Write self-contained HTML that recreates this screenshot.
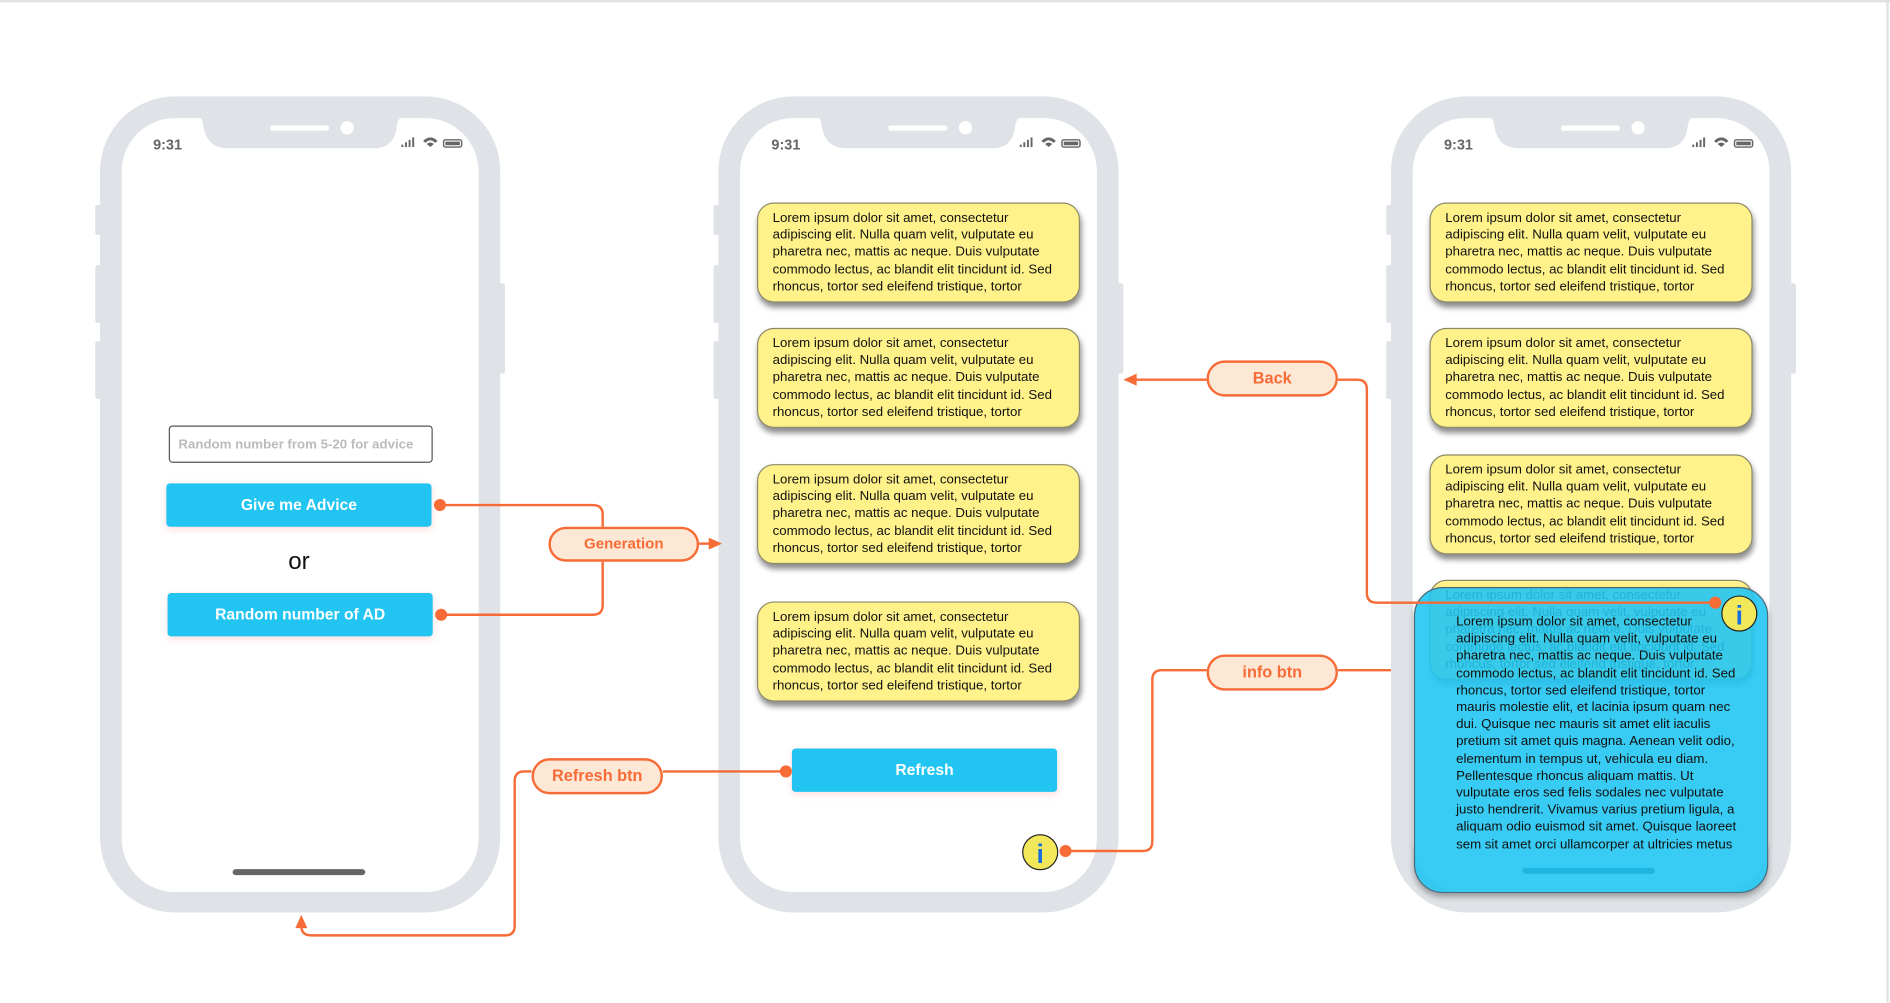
<!DOCTYPE html>
<html><head><meta charset="utf-8">
<style>
html,body{margin:0;padding:0;background:#fff;overflow:hidden}
#w{position:absolute;left:0;top:0;width:1568px;height:832px;transform:scale(1.20536);transform-origin:0 0;font-family:"Liberation Sans",Arial,sans-serif}
.a{position:absolute}
.card{position:absolute;width:268px;height:83px;background:#fff28a;border:1px solid #8d8a6a;border-radius:14px;box-shadow:1px 4px 5px rgba(0,0,0,.45);box-sizing:border-box;padding:5px 0 0 12px;font-size:11px;line-height:14.2px;color:#111;white-space:nowrap}
.btn{position:absolute;background:#22c5f2;color:#fff;font-weight:bold;font-size:13px;text-align:center;border-radius:3px;box-shadow:0 2px 6px rgba(255,120,120,.25)}
.pill{position:absolute;background:#fde8d6;border:2px solid #f76b37;border-radius:16px;box-sizing:border-box;color:#f76b37;font-weight:bold;font-size:13.5px;text-align:center}
</style></head><body><div id="w">
<svg class="a" style="left:0;top:0" width="1568" height="832" viewBox="0 0 1568 832">
<line x1="0" y1="1" x2="1568" y2="1" stroke="#e2e2e2" stroke-width="2"/>
<line x1="1566" y1="0" x2="1566" y2="832" stroke="#e2e2e2" stroke-width="2"/>
<g fill="#dfe2e6">
<g id="ph">
<rect x="79" y="170" width="6" height="25" rx="2"/><rect x="79" y="220" width="6" height="48" rx="2"/><rect x="79" y="283" width="6" height="48" rx="2"/><rect x="413" y="235" width="6" height="75" rx="2"/>
<rect x="83" y="80" width="332" height="677" rx="62"/>
<rect x="101" y="98" width="296" height="642" rx="44" fill="#fff"/>
<path d="M166 98 H333 Q330 98 329 106 Q327 122 312 123 H187 Q172 122 169 106 Q168 98 166 98Z"/>
<rect x="224" y="104" width="49" height="4.5" rx="2.3" fill="#fff"/>
<circle cx="288" cy="106" r="5.5" fill="#fff"/>
<g fill="#666"><rect x="333" y="120" width="1.6" height="2"/><rect x="336" y="118" width="1.6" height="4"/><rect x="339" y="116" width="1.6" height="6"/><rect x="342" y="114" width="1.6" height="8"/>
<path d="M351 117 Q357 111 363 117 L361 118.5 Q357 114.5 353 118.5Z M354 119.5 Q357 117 360 119.5 L357 122Z"/>
<rect x="368" y="116" width="15" height="6" rx="1.5" fill="none" stroke="#666" stroke-width="1.2"/><rect x="369.5" y="117.5" width="12" height="3"/></g>
<text x="127" y="124" font-size="12" font-weight="bold" fill="#666" font-family="Liberation Sans,Arial">9:31</text>
</g>
<use href="#ph" x="513"/>
<use href="#ph" x="1071"/>
</g>
<rect x="193" y="721" width="110" height="5" rx="2.5" fill="#666"/>
</svg>

<div class="a" style="left:140px;top:353px;width:219px;height:31px;border:1px solid #555;border-radius:3px;box-sizing:border-box;font-size:11px;font-weight:bold;color:#bbb;padding:9px 0 0 7px">Random number from 5-20 for advice</div>
<div class="btn" style="left:138px;top:401px;width:220px;height:36px;line-height:36px">Give me Advice</div>
<div class="a" style="left:228px;top:455px;width:40px;text-align:center;font-size:20px;color:#111">or</div>
<div class="btn" style="left:139px;top:492px;width:220px;height:36px;line-height:36px">Random number of AD</div>

<div class="card" style="left:628px;top:168px">Lorem ipsum dolor sit amet, consectetur<br>adipiscing elit. Nulla quam velit, vulputate eu<br>pharetra nec, mattis ac neque. Duis vulputate<br>commodo lectus, ac blandit elit tincidunt id. Sed<br>rhoncus, tortor sed eleifend tristique, tortor</div>
<div class="card" style="left:628px;top:272px">Lorem ipsum dolor sit amet, consectetur<br>adipiscing elit. Nulla quam velit, vulputate eu<br>pharetra nec, mattis ac neque. Duis vulputate<br>commodo lectus, ac blandit elit tincidunt id. Sed<br>rhoncus, tortor sed eleifend tristique, tortor</div>
<div class="card" style="left:628px;top:385px">Lorem ipsum dolor sit amet, consectetur<br>adipiscing elit. Nulla quam velit, vulputate eu<br>pharetra nec, mattis ac neque. Duis vulputate<br>commodo lectus, ac blandit elit tincidunt id. Sed<br>rhoncus, tortor sed eleifend tristique, tortor</div>
<div class="card" style="left:628px;top:499px">Lorem ipsum dolor sit amet, consectetur<br>adipiscing elit. Nulla quam velit, vulputate eu<br>pharetra nec, mattis ac neque. Duis vulputate<br>commodo lectus, ac blandit elit tincidunt id. Sed<br>rhoncus, tortor sed eleifend tristique, tortor</div>
<div class="btn" style="left:657px;top:621px;width:220px;height:36px;line-height:36px">Refresh</div>

<div class="card" style="left:1186px;top:168px">Lorem ipsum dolor sit amet, consectetur<br>adipiscing elit. Nulla quam velit, vulputate eu<br>pharetra nec, mattis ac neque. Duis vulputate<br>commodo lectus, ac blandit elit tincidunt id. Sed<br>rhoncus, tortor sed eleifend tristique, tortor</div>
<div class="card" style="left:1186px;top:272px">Lorem ipsum dolor sit amet, consectetur<br>adipiscing elit. Nulla quam velit, vulputate eu<br>pharetra nec, mattis ac neque. Duis vulputate<br>commodo lectus, ac blandit elit tincidunt id. Sed<br>rhoncus, tortor sed eleifend tristique, tortor</div>
<div class="card" style="left:1186px;top:377px">Lorem ipsum dolor sit amet, consectetur<br>adipiscing elit. Nulla quam velit, vulputate eu<br>pharetra nec, mattis ac neque. Duis vulputate<br>commodo lectus, ac blandit elit tincidunt id. Sed<br>rhoncus, tortor sed eleifend tristique, tortor</div>
<div class="card" style="left:1186px;top:481px">Lorem ipsum dolor sit amet, consectetur<br>adipiscing elit. Nulla quam velit, vulputate eu<br>pharetra nec, mattis ac neque. Duis vulputate<br>commodo lectus, ac blandit elit tincidunt id. Sed<br>rhoncus, tortor sed eleifend tristique, tortor</div>
<div class="a" style="left:1173px;top:487px;width:294px;height:254px;background:rgba(34,197,242,.9);border:1px solid #4a6a78;border-radius:24px;box-sizing:border-box;box-shadow:0 3px 5px rgba(0,0,0,.3)"></div>
<div class="a" style="left:1263px;top:720px;width:110px;height:5px;border-radius:3px;background:#1eb6e0"></div>
<div class="a" style="left:1208px;top:509px;font-size:11px;line-height:14.2px;color:#111;white-space:nowrap">Lorem ipsum dolor sit amet, consectetur<br>adipiscing elit. Nulla quam velit, vulputate eu<br>pharetra nec, mattis ac neque. Duis vulputate<br>commodo lectus, ac blandit elit tincidunt id. Sed<br>rhoncus, tortor sed eleifend tristique, tortor<br>mauris molestie elit, et lacinia ipsum quam nec<br>dui. Quisque nec mauris sit amet elit iaculis<br>pretium sit amet quis magna. Aenean velit odio,<br>elementum in tempus ut, vehicula eu diam.<br>Pellentesque rhoncus aliquam mattis. Ut<br>vulputate eros sed felis sodales nec vulputate<br>justo hendrerit. Vivamus varius pretium ligula, a<br>aliquam odio euismod sit amet. Quisque laoreet<br>sem sit amet orci ullamcorper at ultricies metus</div>

<svg class="a" style="left:0;top:0" width="1568" height="832" viewBox="0 0 1568 832">
<g fill="none" stroke="#f76b37" stroke-width="2">
<path d="M365 419 H492 Q500 419 500 427 V437"/>
<path d="M366 510 H492 Q500 510 500 502 V466"/>
<path d="M580 451 H590"/>
<path d="M1001 315 H942"/>
<path d="M1110 315 H1126 Q1134 315 1134 323 V492 Q1134 500 1142 500 H1423"/>
<path d="M1110 556 H1154"/>
<path d="M1001 556 H964 Q956 556 956 564 V698 Q956 706 948 706 H884"/>
<path d="M550 640 H652"/>
<path d="M441 640 H435 Q427 640 427 648 V768 Q427 776 419 776 H258 Q250 776 250 768 V768"/>
</g>
<g fill="#f76b37">
<circle cx="365" cy="419" r="5"/><circle cx="366" cy="510" r="5"/>
<path d="M588 446 L599 451 L588 456Z"/>
<path d="M943 310 L932 315 L943 320Z"/>
<circle cx="1423" cy="500" r="5"/>
<circle cx="884" cy="706" r="5"/>
<circle cx="652" cy="640" r="5"/>
<path d="M245 770 L250 759 L255 770Z"/>
</g>
<g font-family="Liberation Sans,Arial" font-weight="bold" text-anchor="middle">
<circle cx="863" cy="707" r="14.5" fill="#f2e85a" stroke="#222" stroke-width="1"/>
<text x="863" y="716" font-size="22" fill="#1a6fe0">i</text>
<circle cx="1443" cy="509" r="14.5" fill="#f2e85a" stroke="#222" stroke-width="1"/>
<text x="1443" y="518" font-size="22" fill="#1a6fe0">i</text>
</g>
</svg>

<div class="pill" style="left:455px;top:437px;width:125px;height:29px;line-height:25px;font-size:12.5px">Generation</div>
<div class="pill" style="left:1001px;top:299px;width:109px;height:30px;line-height:26px">Back</div>
<div class="pill" style="left:1001px;top:543px;width:109px;height:30px;line-height:26px">info btn</div>
<div class="pill" style="left:441px;top:629px;width:109px;height:30px;line-height:26px">Refresh btn</div>
</div></body></html>
